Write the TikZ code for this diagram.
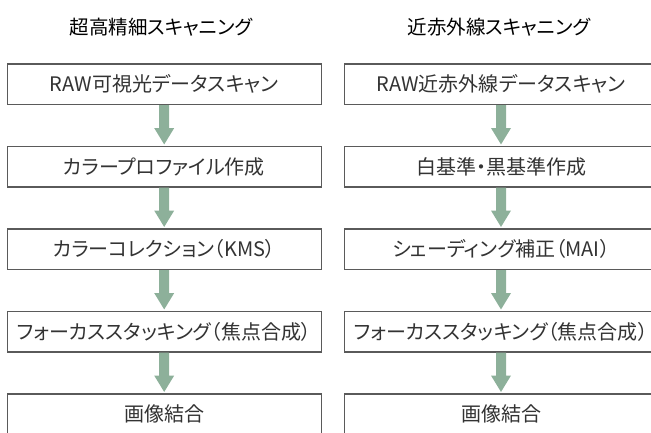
\documentclass[tikz,border=0pt]{standalone}
\usepackage{fontspec}
\setmainfont{Noto Sans CJK JP}[RawFeature=+palt]
\usetikzlibrary{calc}
\definecolor{boxgray}{HTML}{5A5A5A}
\definecolor{textgray}{HTML}{333333}
\definecolor{arrowcol}{HTML}{8DB09A}
\newcommand\flowarrow[2]{%
  \fill[arrowcol] ($(#1.south)+(-5,0)$) -- ($(#1.south)+(-5,23)$) -- ($(#1.south)+(-10,23)$)
    -- ($(#2.north)+(0,-1.5)$) -- ($(#1.south)+(10,23)$) -- ($(#1.south)+(5,23)$)
    -- ($(#1.south)+(5,0)$) -- cycle;}
\begin{document}
\begin{tikzpicture}[x=1pt,y=-1pt,
  box/.style={draw=boxgray, line width=1.1pt, fill=white, minimum width=313.7pt,
    minimum height=40.5pt, inner sep=0pt, text=textgray,
    font=\fontsize{20}{22}\selectfont},
  coltitle/.style={inner sep=0pt, text=black, font=\fontsize{19.5}{22}\selectfont}]
\useasboundingbox (0,0) rectangle (651,432);
\clip (0,0) rectangle (651,432);
\node[coltitle] (TL) at (161,27) {超高精細スキャニング};
\node[coltitle] (TR) at (499,27) {近赤外線スキャニング};
\node[box] (L1) at (164.2,84.25) {RAW可視光データスキャン};
\node[box] (L2) at (164.2,166.75) {カラープロファイル作成};
\node[box] (L3) at (164.2,249.25) {カラーコレクション（KMS）};
\node[box] (L4) at (164.2,331.75) {フォーカススタッキング（焦点合成）};
\node[box] (L5) at (164.2,414.25) {画像結合};
\node[box] (R1) at (501,84.25) {RAW近赤外線データスキャン};
\node[box] (R2) at (501,166.75) {白基準・黒基準作成};
\node[box] (R3) at (501,249.25) {シェーディング補正（MAI）};
\node[box] (R4) at (501,331.75) {フォーカススタッキング（焦点合成）};
\node[box] (R5) at (501,414.25) {画像結合};
\flowarrow{L1}{L2}
\flowarrow{L2}{L3}
\flowarrow{L3}{L4}
\flowarrow{L4}{L5}
\flowarrow{R1}{R2}
\flowarrow{R2}{R3}
\flowarrow{R3}{R4}
\flowarrow{R4}{R5}
\end{tikzpicture}
\end{document}
